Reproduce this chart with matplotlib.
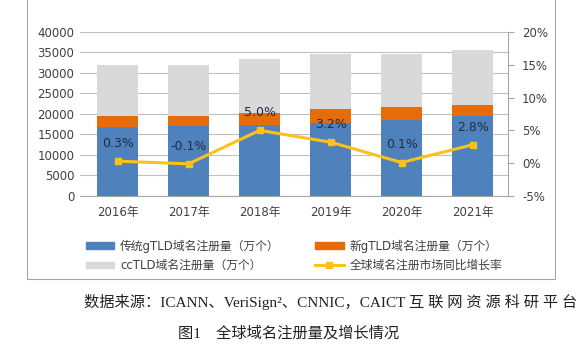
import matplotlib.pyplot as plt
import matplotlib.patches as mpatches
from matplotlib.lines import Line2D
import numpy as np

plt.rcParams['font.family'] = ['DejaVu Sans', 'Noto Sans CJK SC']

years = ['2016年', '2017年', '2018年', '2019年', '2020年', '2021年']
legacy_gtld = [16780, 17100, 17420, 17910, 18500, 19560]
new_gtld = [2780, 2460, 2870, 3370, 3190, 2700]
cctld = [12270, 12270, 13180, 13420, 13010, 13420]
growth = [0.3, -0.1, 5.0, 3.2, 0.1, 2.8]

c_blue = '#4f81bd'
c_orange = '#e46c0a'
c_gray = '#d9d9d9'
c_yellow = '#fbc21a'
txt = '#404040'

fig = plt.figure(figsize=(5.8, 3.55), dpi=100)
ax = fig.add_axes([0.138, 0.448, 0.738, 0.462])
x = np.arange(len(years))
w = 0.57

b1 = np.array(legacy_gtld)
b2 = b1 + np.array(new_gtld)
ax.bar(x, legacy_gtld, w, color=c_blue, zorder=2)
ax.bar(x, new_gtld, w, bottom=b1, color=c_orange, zorder=2)
ax.bar(x, cctld, w, bottom=b2, color=c_gray, zorder=2)

ax.set_ylim(0, 40000)
ax.set_yticks(range(0, 40001, 5000))
ax.set_xlim(-0.53, 5.5)
ax.set_xticks(x)
ax.set_xticklabels(years)
ax.grid(axis='y', color='#bfbfbf', linewidth=0.8, zorder=0)
for s in ['top', 'left', 'right']:
    ax.spines[s].set_visible(False)
ax.spines['bottom'].set_color('#a6a6a6')
ax.tick_params(axis='both', length=0, labelsize=8.5, colors=txt, pad=4)
ax.tick_params(axis='x', pad=7)

ax2 = ax.twinx()
ax2.set_ylim(-5, 20)
ax2.set_yticks(range(-5, 21, 5))
ax2.set_yticklabels([f'{v}%' for v in range(-5, 21, 5)])
ax2.plot(x, growth, color=c_yellow, linewidth=2.2, marker='s', markersize=5, zorder=3)
for s in ['top', 'left', 'bottom']:
    ax2.spines[s].set_visible(False)
ax2.spines['right'].set_color('#a6a6a6')
ax2.tick_params(axis='y', length=4, color='#a6a6a6', labelsize=8.5, colors=txt, pad=6)
for xi, g in zip(x, growth):
    ax2.annotate(f'{g:.1f}%', (xi, g), xytext=(0, 8), textcoords='offset points',
                 ha='center', va='bottom', fontsize=9, color='#1f2d3d')

# outer chart frame
fig.add_artist(mpatches.Rectangle((0.0466, 0.214), 0.910, 0.80, transform=fig.transFigure,
                                  fill=False, edgecolor='#a6a6a6', linewidth=0.8))

# column-major order so rows read blue/orange, gray/yellow
handles = [mpatches.Patch(color=c_blue), mpatches.Patch(color=c_gray),
           mpatches.Patch(color=c_orange),
           Line2D([0], [0], color=c_yellow, linewidth=2.2, marker='s', markersize=4)]
labels = ['传统gTLD域名注册量（万个）', 'ccTLD域名注册量（万个）',
          '新gTLD域名注册量（万个）', '全球域名注册市场同比增长率']
fig.legend(handles, labels, ncol=2, loc='upper left', bbox_to_anchor=(0.13, 0.355),
           frameon=False, fontsize=8.5, handlelength=2.4, handleheight=0.5,
           columnspacing=3.0, labelspacing=0.55, handletextpad=0.5, labelcolor=txt)

serif = ['Liberation Serif', 'Noto Sans CJK SC']
fig.text(0.145, 0.148, '数据来源：ICANN、VeriSign²、CNNIC，CAICT 互 联 网 资 源 科 研 平 台',
         fontsize=11, family=serif, color='#222222', va='center')
fig.text(0.307, 0.062, '图1　全球域名注册量及增长情况', fontsize=11, family=serif,
         color='#222222', va='center')

fig.savefig('out.png', dpi=100)
